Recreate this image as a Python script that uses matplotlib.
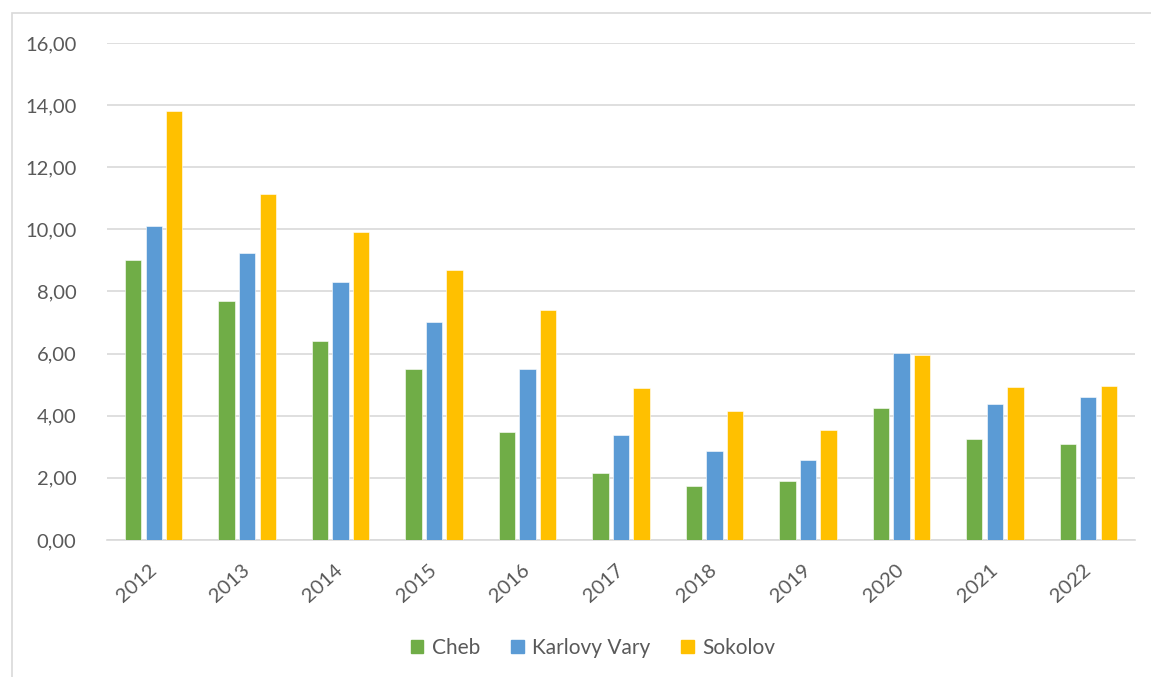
import matplotlib.pyplot as plt
import matplotlib.patches as mpatches
import numpy as np

years = ["2012", "2013", "2014", "2015", "2016", "2017", "2018", "2019", "2020", "2021", "2022"]
cheb = [9.00, 7.70, 6.40, 5.49, 3.48, 2.16, 1.74, 1.91, 4.25, 3.24, 3.09]
karlovy_vary = [10.12, 9.23, 8.30, 7.02, 5.49, 3.38, 2.88, 2.57, 6.01, 4.38, 4.60]
sokolov = [13.82, 11.15, 9.91, 8.69, 7.41, 4.89, 4.16, 3.55, 5.96, 4.91, 4.95]
yticks = [0, 2, 4, 6, 8, 10, 12, 14, 16]

series = [("Cheb", cheb, "#70ad47"),
          ("Karlovy Vary", karlovy_vary, "#5b9bd5"),
          ("Sokolov", sokolov, "#ffc000")]

plt.rcParams['font.family'] = ['Lato', 'DejaVu Sans']
text_color = "#595959"

W, H = 1151, 677
fig = plt.figure(figsize=(W / 100, H / 100), dpi=100)
ax = fig.add_axes([107 / W, 1 - 540 / H, (1135 - 107) / W, (540 - 43) / H])

# rámeček grafu
fig.patches.append(mpatches.Rectangle((12 / W, -0.1), 1.2, 1 - 13 / H + 0.1,
                                      transform=fig.transFigure, fill=False,
                                      edgecolor="#d9d9d9", linewidth=1.2))

x = np.arange(len(years))
offset = 0.22
width = 0.175
for i, (name, vals, col) in enumerate(series):
    ax.bar(x + (i - 1) * offset, vals, width, color=col, label=name,
           edgecolor="white", linewidth=0.4, zorder=3)

ax.set_xlim(-0.5, len(years) - 0.5)
ax.set_ylim(0, 16)
ax.set_yticks(yticks)
ax.set_yticklabels([f"{v:.2f}".replace(".", ",") for v in yticks])
ax.set_xticks(x)
ax.set_xticklabels(years, rotation=42, ha="right", va="center", rotation_mode="anchor")
ax.tick_params(axis="x", length=0, pad=20, labelsize=14.5, colors=text_color)
ax.tick_params(axis="y", length=0, pad=22, labelsize=14.5, colors=text_color)

ax.grid(axis="y", color="#d9d9d9", linewidth=1.2, zorder=0)
for s in ["top", "right", "left"]:
    ax.spines[s].set_visible(False)
ax.spines["bottom"].set_color("#d9d9d9")
ax.spines["bottom"].set_linewidth(1.2)

handles = [mpatches.Patch(color=c, label=n) for n, _, c in series]
leg = fig.legend(handles=handles, loc="center", bbox_to_anchor=(593 / W, 1 - 648 / H),
                 ncol=3, frameon=False, fontsize=15, handlelength=0.6, handleheight=0.6,
                 handletextpad=0.4, columnspacing=1.5)
for t in leg.get_texts():
    t.set_color(text_color)

fig.savefig("out.png", dpi=100)
